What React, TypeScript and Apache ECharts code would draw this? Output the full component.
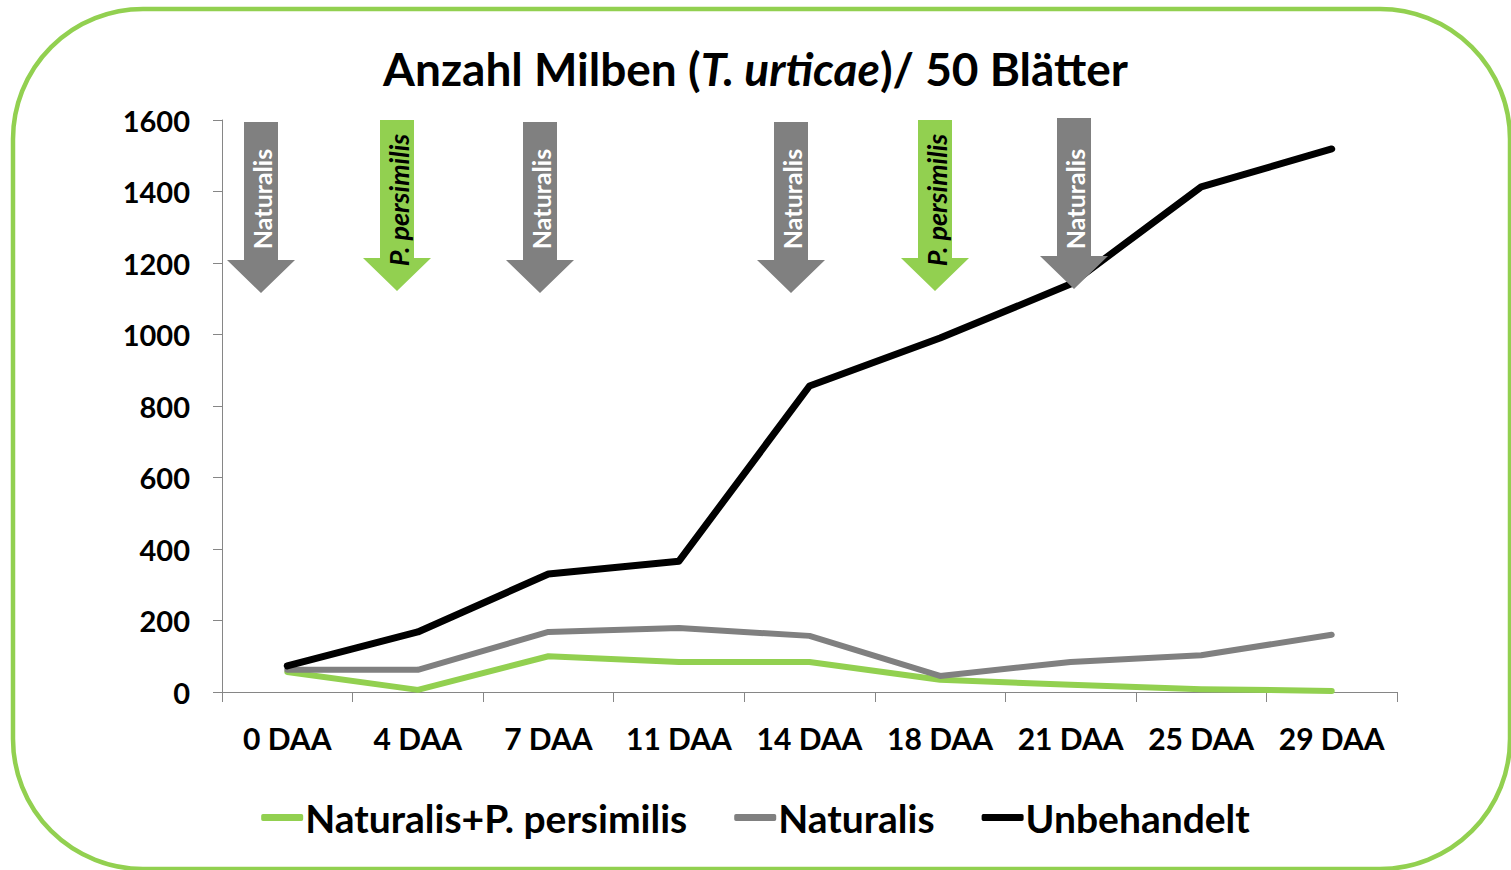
import React, { useEffect, useRef } from "react";
import * as echarts from "echarts";

const categories = ["0 DAA", "4 DAA", "7 DAA", "11 DAA", "14 DAA", "18 DAA", "21 DAA", "25 DAA", "29 DAA"];
const seriesNames = ["Naturalis+P. persimilis", "Naturalis", "Unbehandelt"];
const greenValues = [56, 6, 100, 84, 84, 34, 20, 8, 3];
const grayValues = [62, 62, 168, 179, 157, 45, 84, 103, 160];
const blackValues = [73, 168, 330, 366, 856, 990, 1141, 1413, 1519];
const yTicks = { min: 0, max: 1600, interval: 200 };
const arrowLabels = ["Naturalis", "P. persimilis", "Naturalis", "Naturalis", "P. persimilis", "Naturalis"];

// layout of annotation arrows (pixel centers)
const arrowCenters = [261, 397, 540, 791, 935, 1074];
const arrowTops = [122, 120, 122, 122, 120, 118];

const GREEN = "#92D050";
const GRAY = "#808080";
const FONT = "Lato";

function arrowGraphic(cx: number, top: number, label: string) {
  const isGreen = label.startsWith("P.");
  const baseY = top + 138;
  const tipY = top + 171;
  return {
    type: "group",
    z: 100,
    children: [
      {
        type: "polygon",
        z: 100,
        shape: {
          points: [
            [cx - 17, top],
            [cx + 17, top],
            [cx + 17, baseY],
            [cx + 34, baseY],
            [cx, tipY],
            [cx - 34, baseY],
            [cx - 17, baseY],
          ],
        },
        style: { fill: isGreen ? GREEN : GRAY },
      },
      {
        type: "text",
        z: 101,
        x: cx + 1,
        y: isGreen ? 200 : 199,
        rotation: Math.PI / 2,
        style: {
          text: label,
          fill: isGreen ? "#000000" : "#ffffff",
          font: `${isGreen ? "italic " : ""}bold ${isGreen ? 27 : 25}px ${FONT}`,
          align: "center",
          verticalAlign: "middle",
        },
      },
    ],
  };
}

export default function App() {
  const ref = useRef<HTMLDivElement>(null);
  useEffect(() => {
    const chart = echarts.init(ref.current!, null, { renderer: "svg" });
    const option: any = {
      animation: false,
      backgroundColor: "#ffffff",
      title: {
        text: "{a|Anzahl Milben (}{i|T. urticae}{a|)/ 50 Blätter}",
        left: "center",
        top: 40,
        textStyle: {
          rich: {
            a: { fontFamily: FONT, fontWeight: "bold", fontSize: 46, color: "#000" },
            i: { fontFamily: FONT, fontWeight: "bold", fontStyle: "italic", fontSize: 46, color: "#000" },
          },
        },
      },
      legend: {
        data: seriesNames,
        bottom: 28,
        left: "center",
        icon: "roundRect",
        itemWidth: 42,
        itemHeight: 7,
        itemGap: 47,
        textStyle: { fontFamily: FONT, fontWeight: "bold", fontSize: 39, color: "#000", padding: [0, 0, 0, -3] },
      },
      grid: { left: 222, right: 114, top: 120, bottom: 178 },
      xAxis: {
        type: "category",
        data: categories,
        axisLine: { lineStyle: { color: "#868686", width: 1 } },
        axisTick: { show: true, length: 10, lineStyle: { color: "#868686" } },
        axisLabel: { margin: 31, fontFamily: FONT, fontWeight: "bold", fontSize: 30, color: "#000", interval: 0 },
        splitLine: { show: false },
      },
      yAxis: {
        type: "value",
        min: yTicks.min,
        max: yTicks.max,
        interval: yTicks.interval,
        axisLine: { show: true, lineStyle: { color: "#868686", width: 1 } },
        axisTick: { show: true, length: 9, lineStyle: { color: "#868686" } },
        axisLabel: {
          margin: 32,
          fontFamily: FONT,
          fontWeight: "bold",
          fontSize: 29,
          color: "#000",
          formatter: (v: number) => String(v),
        },
        splitLine: { show: false },
      },
      series: [
        {
          name: seriesNames[0],
          type: "line",
          data: greenValues,
          symbol: "none",
          color: GREEN,
          lineStyle: { width: 6, color: GREEN, cap: "round", join: "round" },
        },
        {
          name: seriesNames[1],
          type: "line",
          data: grayValues,
          symbol: "none",
          color: GRAY,
          lineStyle: { width: 6, color: GRAY, cap: "round", join: "round" },
        },
        {
          name: seriesNames[2],
          type: "line",
          data: blackValues,
          symbol: "none",
          color: "#000000",
          lineStyle: { width: 7, color: "#000000", cap: "round", join: "round" },
        },
      ],
      graphic: [
        {
          type: "rect",
          z: 200,
          shape: { x: 13, y: 9, width: 1497, height: 860, r: 130 },
          style: { fill: "none", stroke: GREEN, lineWidth: 4.5 },
        },
        ...arrowLabels.map((l, i) => arrowGraphic(arrowCenters[i], arrowTops[i], l)),
      ],
    };
    chart.setOption(option);
    return () => chart.dispose();
  }, []);
  return (
    <div
      ref={ref}
      style={{ position: "fixed", left: 0, top: 0, width: 1511, height: 870, background: "#fff" }}
    />
  );
}
